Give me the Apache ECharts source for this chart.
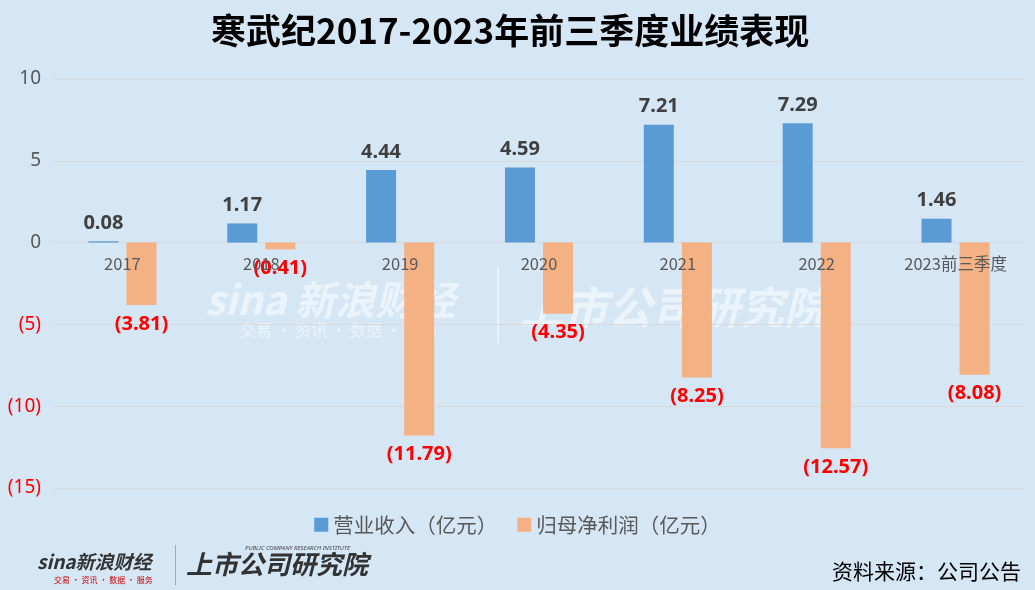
<!DOCTYPE html>
<html><head><meta charset="utf-8">
<script src="https://cdn.jsdelivr.net/npm/echarts@6/dist/echarts.min.js"></script>
<style>html,body{margin:0;padding:0;background:#D5E6F5;}#c{width:1035px;height:590px;}</style>
</head><body><div id="c"></div>
<script>
const categories = ['2017','2018','2019','2020','2021','2022','2023前三季度'];
const revenue = [0.08, 1.17, 4.44, 4.59, 7.21, 7.29, 1.46];
const netProfit = [-3.81, -0.41, -11.79, -4.35, -8.25, -12.57, -8.08];
const seriesNames = ['营业收入（亿元）', '归母净利润（亿元）'];

const fmt = v => v < 0 ? '(' + Math.abs(v).toFixed(2) + ')' : v.toFixed(2);
const chart = echarts.init(document.getElementById('c'));
chart.setOption({
  backgroundColor: '#D5E6F5',
  animation: false,
  title: {
    text: '寒武纪2017-2023年前三季度业绩表现',
    left: 206, top: 8,
    textStyle: {fontSize: 35, fontWeight: 'bold', color: '#000', fontFamily: 'Noto Sans CJK SC'}
  },
  legend: {
    data: seriesNames, bottom: 50, left: 'center', itemWidth: 14, itemHeight: 14, itemGap: 20,
    icon: 'rect',
    textStyle: {fontSize: 20.5, color: '#595959', fontFamily: 'Noto Sans CJK SC'}
  },
  grid: {left: 53, right: 10, top: 79, bottom: 102, containLabel: false, outerBoundsMode: 'none'},
  xAxis: {
    type: 'category', data: categories, position: 'bottom', offset: -245, z: 10,
    axisLine: {show: false, onZero: false},
    axisTick: {show: false},
    axisLabel: {fontSize: 16.5, color: '#595959', margin: 12, fontFamily: 'Noto Sans CJK SC'}
  },
  yAxis: {
    type: 'value', min: -15, max: 10, interval: 5,
    axisLine: {show: false}, axisTick: {show: false},
    splitLine: {lineStyle: {color: '#D9D9D9'}},
    axisLabel: {
      margin: 12, fontFamily: 'Noto Sans',
      formatter: v => v < 0 ? '{n|(' + Math.abs(v) + ')}' : '{p|' + v + '}',
      rich: {p: {color: '#595959', fontSize: 19}, n: {color: '#FF0000', fontSize: 19}}
    }
  },
  series: [
    {
      name: seriesNames[0], type: 'bar', data: revenue, barWidth: 30, barGap: '27%',
      itemStyle: {color: '#5B9BD5'},
      label: {show: true, position: 'top', distance: 8, formatter: p => fmt(p.value),
        fontSize: 20, fontWeight: 'bold', color: '#404040', fontFamily: 'Noto Sans'}
    },
    {
      name: seriesNames[1], type: 'bar', data: netProfit, barWidth: 30,
      itemStyle: {color: '#F4B183'},
      label: {show: true, position: 'bottom', distance: 9, formatter: p => fmt(p.value),
        fontSize: 20, fontWeight: 'bold', color: '#FF0000', fontFamily: 'Noto Sans'}
    }
  ],
  graphic: [
    {type: 'text', left: 205, top: 280, z: 0, silent: true,
      style: {text: 'sina 新浪财经', fontSize: 40, fontWeight: 'bold', fontStyle: 'italic', fill: 'rgba(255,255,255,0.55)', fontFamily: 'Noto Sans CJK SC'}},
    {type: 'text', left: 240, top: 322, z: 0, silent: true,
      style: {text: '交易 · 资讯 · 数据 · 服务', fontSize: 16, fill: 'rgba(255,255,255,0.55)', fontFamily: 'Noto Sans CJK SC'}},
    {type: 'rect', left: 497, top: 268, z: 0, silent: true, shape: {width: 2, height: 75}, style: {fill: 'rgba(255,255,255,0.55)'}},
    {type: 'text', left: 520, top: 285, z: 0, silent: true,
      style: {text: '上市公司研究院', fontSize: 44, fontWeight: 'bold', fontStyle: 'italic', fill: 'rgba(255,255,255,0.55)', fontFamily: 'Noto Sans CJK SC'}},
    {type: 'text', left: 37, top: 552, silent: true,
      style: {text: 'sina新浪财经', fontSize: 19, fontWeight: 'bold', fontStyle: 'italic', fill: '#333', fontFamily: 'Noto Sans CJK SC'}},
    {type: 'text', left: 54, top: 576, silent: true,
      style: {text: '交易 · 资讯 · 数据 · 服务', fontSize: 8, fill: '#c00', fontFamily: 'Noto Sans CJK SC'}},
    {type: 'rect', left: 175, top: 545, silent: true, shape: {width: 1, height: 40}, style: {fill: '#aaa'}},
    {type: 'text', left: 245, top: 545, silent: true,
      style: {text: 'PUBLIC COMPANY RESEARCH INSTITUTE', fontSize: 6, fontStyle: 'italic', fill: '#444', fontFamily: 'Noto Sans'}},
    {type: 'text', left: 186, top: 551, silent: true,
      style: {text: '上市公司研究院', fontSize: 26, fontWeight: 'bold', fontStyle: 'italic', fill: '#333', fontFamily: 'Noto Sans CJK SC'}},
    {type: 'text', right: 14, top: 561, silent: true,
      style: {text: '资料来源：公司公告', fontSize: 21, fill: '#000', fontFamily: 'Noto Sans CJK SC'}}
  ]
});
</script></body></html>
